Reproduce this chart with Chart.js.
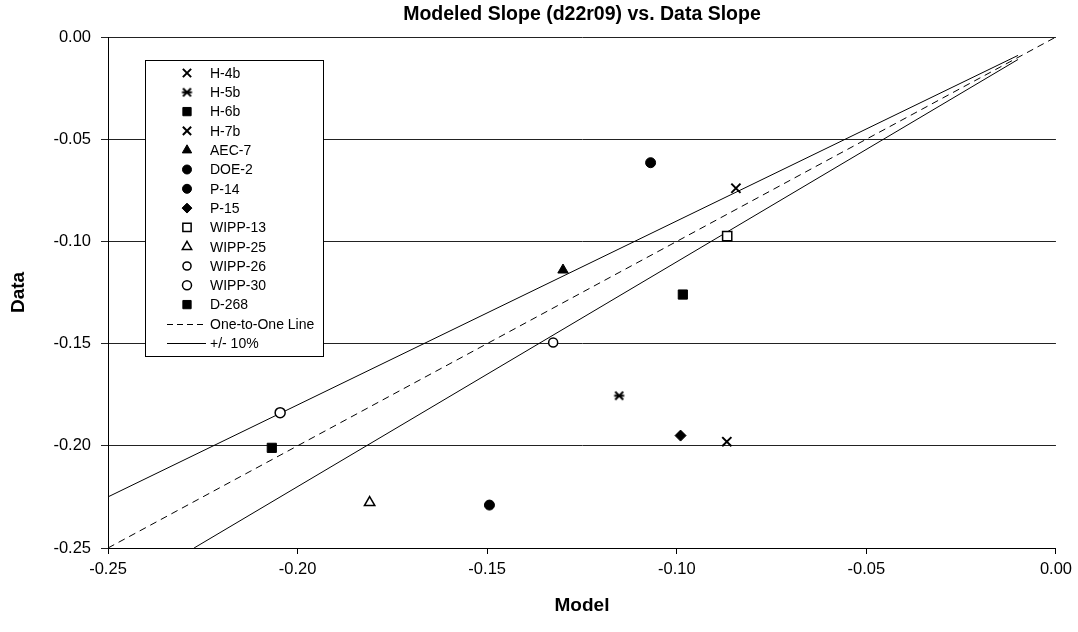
<!DOCTYPE html>
<html>
<head>
<meta charset="utf-8">
<script src="https://cdn.jsdelivr.net/npm/chart.js@4/dist/chart.umd.min.js"></script>
<style>
html,body{margin:0;padding:0;background:#fff;}
#wrap{width:1078px;height:632px;}
</style>
</head>
<body>
<div id="wrap"><canvas id="c" width="1078" height="632"></canvas></div>
<script>
// ---- data ----
const wellNames = ['H-4b','H-5b','H-6b','H-7b','AEC-7','DOE-2','P-14','P-15','WIPP-13','WIPP-25','WIPP-26','WIPP-30','D-268'];
const modelSlope = [-0.0844,-0.1152,-0.0984,-0.0868,-0.1300,-0.1069,-0.1494,-0.0990,-0.0867,-0.1810,-0.1326,-0.2046,-0.2068];
const dataSlope  = [-0.0740,-0.1755,-0.1260,-0.1980,-0.1140,-0.0615,-0.2290,-0.1950,-0.0974,-0.2278,-0.1495,-0.1838,-0.2010];

const oneToOneX = [-0.25, 0.00];
const oneToOneY = [-0.25, 0.00];
const upperX = [-0.25, -0.010];
const upperY = [-0.225, -0.009];
const lowerX = [-0.2273, -0.010];
const lowerY = [-0.25, -0.011];

const axisTicks = [-0.25,-0.20,-0.15,-0.10,-0.05,0.00];
const axisTickLabels = ['-0.25','-0.20','-0.15','-0.10','-0.05','0.00'];

const titleText = 'Modeled Slope (d22r09) vs. Data Slope';
const xTitle = 'Model';
const yTitle = 'Data';
const lineLabels = ['One-to-One Line','+/- 10%'];

// ---- styles ----
const FONT = "'Liberation Sans', Arial, sans-serif";

function asteriskImage(){
  const c = document.createElement('canvas');
  c.width = 13; c.height = 13;
  const g = c.getContext('2d');
  g.strokeStyle = '#000'; g.lineWidth = 1.8;
  g.beginPath();
  g.moveTo(2.5,2.5); g.lineTo(10.5,10.5);
  g.moveTo(10.5,2.5); g.lineTo(2.5,10.5);
  g.moveTo(1.5,6.5); g.lineTo(11.5,6.5);
  g.stroke();
  return c;
}
const starImg = asteriskImage();

const markerStyles = [
  {ps:'crossRot', r:6.5, bw:2, fill:'#000'},
  {ps:starImg, r:6, bw:1, fill:'#000'},
  {ps:'rect', r:6.5, bw:1, fill:'#000'},
  {ps:'crossRot', r:6.5, bw:2, fill:'#000'},
  {ps:'triangle', r:6, bw:1, fill:'#000'},
  {ps:'circle', r:5, bw:1, fill:'#000'},
  {ps:'circle', r:5, bw:1, fill:'#000'},
  {ps:'rectRot', r:5.5, bw:1, fill:'#000'},
  {ps:'rect', r:6.5, bw:1.5, fill:'#fff'},
  {ps:'triangle', r:6, bw:1.5, fill:'#fff'},
  {ps:'circle', r:4.5, bw:1.5, fill:'#fff'},
  {ps:'circle', r:5, bw:1.5, fill:'#fff'},
  {ps:'rect', r:6.5, bw:1, fill:'#000'}
];

const datasets = wellNames.map((n,i)=>({
  label:n,
  data:[{x:modelSlope[i], y:dataSlope[i]}],
  showLine:false,
  pointStyle:markerStyles[i].ps,
  pointRadius:markerStyles[i].r,
  pointBorderWidth:markerStyles[i].bw,
  pointBackgroundColor:markerStyles[i].fill,
  pointBorderColor:'#000'
}));
datasets.push({
  label:lineLabels[0],
  data:oneToOneX.map((x,i)=>({x, y:oneToOneY[i]})),
  showLine:true, pointRadius:0, borderColor:'#000', borderWidth:1, borderDash:[7,5]
});
datasets.push({
  label:lineLabels[1],
  data:upperX.map((x,i)=>({x, y:upperY[i]})),
  showLine:true, pointRadius:0, borderColor:'#000', borderWidth:1
});
datasets.push({
  label:lineLabels[1]+' ',
  data:lowerX.map((x,i)=>({x, y:lowerY[i]})),
  showLine:true, pointRadius:0, borderColor:'#000', borderWidth:1
});

const plotTitle = {
  id:'plotTitle',
  afterDraw(chart, args, o){
    const ctx = chart.ctx, ca = chart.chartArea;
    ctx.save();
    ctx.font = 'bold ' + o.size + 'px ' + FONT;
    ctx.fillStyle = '#000';
    ctx.textAlign = 'center';
    ctx.textBaseline = 'middle';
    ctx.fillText(titleText, (ca.left + ca.right)/2, o.y);
    ctx.restore();
  }
};

const boxLegend = {
  id:'boxLegend',
  afterDatasetsDraw(chart, args, o){
    const ctx = chart.ctx, ca = chart.chartArea;
    const L = ca.left + o.dx, T = ca.top + o.dy;
    ctx.save();
    ctx.fillStyle = '#fff';
    ctx.fillRect(L, T, o.w, o.h);
    ctx.strokeStyle = '#000'; ctx.lineWidth = 1;
    ctx.strokeRect(Math.round(L)+0.5, Math.round(T)+0.5, o.w, o.h);
    ctx.font = o.fontSize + 'px ' + FONT;
    ctx.textBaseline = 'middle';
    ctx.textAlign = 'left';
    const entries = wellNames.length + 2;
    for(let i=0;i<entries;i++){
      const y = T + o.first + i*o.step;
      const mx = L + o.markerX;
      let label;
      if(i < wellNames.length){
        const s = markerStyles[i];
        label = wellNames[i];
        ctx.fillStyle = s.fill; ctx.strokeStyle = '#000';
        ctx.lineWidth = s.bw;
        Chart.helpers.drawPoint(ctx, {pointStyle:s.ps, radius:s.r*0.9, borderWidth:s.bw, rotation:0}, mx, y);
      } else {
        const k = i - wellNames.length;
        label = lineLabels[k];
        ctx.strokeStyle = '#000'; ctx.lineWidth = 1;
        ctx.setLineDash(k===0 ? [6,4] : []);
        ctx.beginPath();
        ctx.moveTo(L + o.lineX0, Math.round(y)+0.5);
        ctx.lineTo(L + o.lineX1, Math.round(y)+0.5);
        ctx.stroke();
        ctx.setLineDash([]);
      }
      ctx.fillStyle = '#000';
      ctx.fillText(label, L + o.textX, y + 1);
    }
    ctx.restore();
  }
};

new Chart(document.getElementById('c'), {
  type:'scatter',
  data:{datasets},
  plugins:[boxLegend, plotTitle],
  options:{
    responsive:false,
    animation:false,
    devicePixelRatio:1,
    layout:{padding:{left:0, right:22, top:37, bottom:0}},
    plugins:{
      legend:{display:false},
      tooltip:{enabled:false},
      title:{display:false},
      plotTitle:{size:19.5, y:15},
      boxLegend:{dx:37, dy:23, w:178, h:296, first:13, step:19.3, markerX:42, textX:65, lineX0:22, lineX1:61, fontSize:14}
    },
    scales:{
      x:{
        type:'linear', min:-0.25, max:0,
        afterBuildTicks:(s)=>{ s.ticks = axisTicks.map(v=>({value:v})); },
        afterFit:(s)=>{ s.height = 84; },
        ticks:{color:'#000', font:{family:FONT, size:16.5}, padding:6, maxRotation:0,
          callback:(v)=>{ const i = axisTicks.findIndex(t=>Math.abs(t-v)<1e-9); return i>=0?axisTickLabels[i]:''; }},
        grid:{drawOnChartArea:false, drawTicks:true, tickLength:6, color:'#000'},
        border:{display:true, color:'#000', width:1},
        title:{display:true, text:xTitle, color:'#000', font:{family:FONT, size:19, weight:'bold'}, padding:{top:0, bottom:15}}
      },
      y:{
        type:'linear', min:-0.25, max:0,
        afterBuildTicks:(s)=>{ s.ticks = axisTicks.map(v=>({value:v})); },
        afterFit:(s)=>{ s.width = 108; },
        ticks:{color:'#000', font:{family:FONT, size:16.5}, padding:10,
          callback:(v)=>{ const i = axisTicks.findIndex(t=>Math.abs(t-v)<1e-9); return i>=0?axisTickLabels[i]:''; }},
        grid:{drawOnChartArea:true, drawTicks:true, tickLength:7, color:'#222'},
        border:{display:true, color:'#000', width:1},
        title:{display:true, text:yTitle, color:'#000', font:{family:FONT, size:19, weight:'bold'}, padding:{top:7, bottom:0}}
      }
    }
  }
});
</script>
</body>
</html>
